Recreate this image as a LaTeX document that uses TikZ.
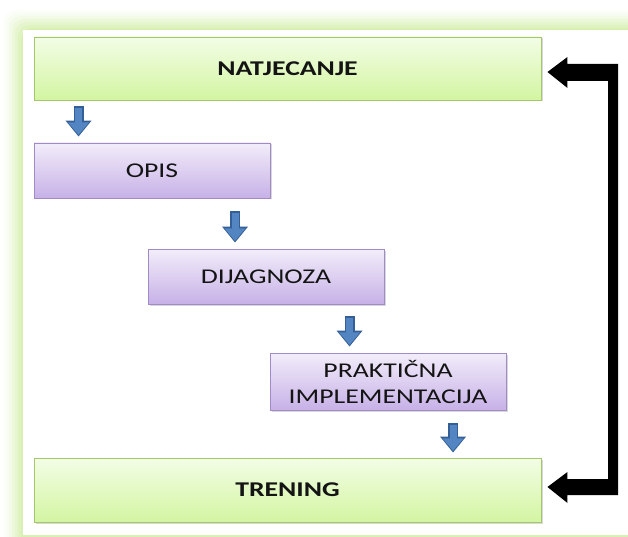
\documentclass[tikz,border=0pt]{standalone}
\usepackage{fontspec}
\setmainfont{Carlito}
\usepackage{graphicx}
\usetikzlibrary{arrows.meta,calc,shadows}

% colours of the chart
\definecolor{glowgreen}{HTML}{D3EEA8}
\definecolor{greenline}{HTML}{A3C76A}
\definecolor{greentop}{HTML}{F3FDE6}
\definecolor{greenbot}{HTML}{D3F5A2}
\definecolor{purpleline}{HTML}{A08AC8}
\definecolor{purpletop}{HTML}{F2EDFA}
\definecolor{purplebot}{HTML}{C7B1E7}
\definecolor{blueline}{HTML}{345F96}
\definecolor{bluefill}{HTML}{5285C2}
\definecolor{textdark}{HTML}{141414}

% the letters are set wide
\newcommand{\wide}[1]{\scalebox{1.32}[1]{#1}}

\tikzset{
  greenbox/.style={draw=greenline, line width=0.9pt, top color=greentop,
    bottom color=greenbot, minimum width=507pt, minimum height=63pt,
    inner sep=0pt, text=textdark, font=\fontsize{21}{26}\selectfont\bfseries,
    drop shadow={shadow xshift=1.5pt, shadow yshift=-1.5pt, opacity=0.3}},
  purplebox/.style={draw=purpleline, line width=0.9pt, top color=purpletop,
    bottom color=purplebot, minimum width=236pt, minimum height=55pt,
    inner sep=0pt, align=center, text=textdark,
    font=\fontsize{21}{26}\selectfont,
    drop shadow={shadow xshift=1.5pt, shadow yshift=-1.5pt, opacity=0.3}},
  blockedge/.style={draw=blueline, line width=10pt,
    -{Triangle[width=25pt,length=16pt]}},
  blockfill/.style={draw=bluefill, line width=7pt, shorten <=1.2pt,
    shorten >=1.6pt, -{Triangle[width=20pt,length=12.5pt]}},
}

\begin{document}
\begin{tikzpicture}[x=1pt,y=-1pt]

  % Fix the size of the picture
  \useasboundingbox (0,0) rectangle (628,537);
  \clip (0,0) rectangle (628,537);

  % Draw the green glow round the frame
  \foreach \d/\c in {20/6, 17/15, 14/28, 11/42, 8/58, 5/74, 2/88}{
    \fill[glowgreen!\c, rounded corners=12pt] (23-\d,30-\d) rectangle (660,560);
  }
  \fill[white] (23,30) rectangle (660,535);

  % The five stages
  \node[greenbox] (nat) at (287.5,68.5) {\wide{NATJECANJE}};
  \node[purplebox] (opis) at (152,170.5) {\wide{OPIS}};
  \node[purplebox] (dij) at (266,276.5) {\wide{DIJAGNOZA}};
  \node[purplebox, minimum height=57pt] (prak) at (388,381.5)
    {\wide{PRAKTIČNA}\\\wide{IMPLEMENTACIJA}};
  \node[greenbox, minimum height=64pt] (tren) at (287.5,490) {\wide{TRENING}};

  % Ends of the blue arrows
  \coordinate (a1s) at ($(nat.south west)+(45,6)$);
  \coordinate (a1e) at ($(opis.north west)+(45,-6)$);
  \coordinate (a2s) at ($(opis.south west)+(201.5,13)$);
  \coordinate (a2e) at ($(dij.north west)+(87.5,-6)$);
  \coordinate (a3s) at ($(dij.south west)+(202,12)$);
  \coordinate (a3e) at ($(prak.north west)+(80,-6)$);
  \coordinate (a4s) at ($(prak.south west)+(183.5,13)$);
  \coordinate (a4e) at ($(tren.north west)+(419.5,-5)$);

  % Draw the blue arrows
  \foreach \s/\e in {a1s/a1e, a2s/a2e, a3s/a3e, a4s/a4e}{
    \draw[blockedge] (\s) -- (\e);
    \draw[blockfill] (\s) -- (\e);
  }

  % Tips and right side of the black arrow
  \coordinate (ntip) at ($(nat.east)+(6,3.5)$);
  \coordinate (ttip) at ($(tren.east)+(6,-3)$);
  \coordinate (rx) at (618,0);
  \coordinate (rxi) at (608,0);

  % Draw the black arrow from TRENING back to NATJECANJE
  \fill[black] (ntip) -- ++(20,-15) -- ++(0,7) -- ($(ntip -| rx)+(0,-8)$)
    -- ($(ttip -| rx)+(0,8)$) -- ($(ttip)+(20,8)$) -- ++(0,8) -- (ttip)
    -- ++(20,-15) -- ++(0,7) -- ($(ttip -| rxi)+(0,-8)$)
    -- ($(ntip -| rxi)+(0,9)$) -- ($(ntip)+(20,9)$) -- ++(0,7) -- cycle;

\end{tikzpicture}
\end{document}
